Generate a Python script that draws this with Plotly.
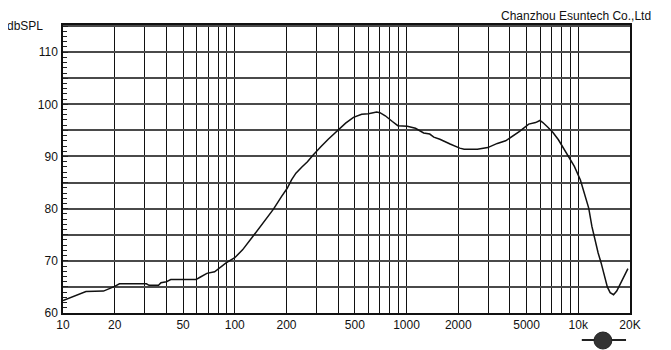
import plotly.graph_objects as go

# ---- data ----
freq_hz = [10, 10.7, 12.0, 13.6, 17.2, 18.8, 20, 21.3, 30.6, 31.7, 36, 37.2, 40, 42.4,
           59.5, 62.4, 68.8, 76.3, 89, 100, 111, 127, 146, 168, 187, 202, 214, 227,
           246, 265, 286, 303, 318, 350, 397, 442, 491, 548, 600, 670, 700, 752, 827,
           890, 1010, 1127, 1258, 1365, 1441, 1564, 1793, 2040, 2165, 2584, 2970, 3378,
           3777, 4100, 4552, 5145, 5640, 5980, 6220, 6650, 7120, 7660, 8220, 8790, 9487,
           10286, 10870, 11180, 11500, 12000, 12490, 13050, 13580, 14180, 14760, 15330,
           16040, 16740, 17710, 18720, 19450]
spl_db = [62.4, 62.8, 63.5, 64.1, 64.2, 64.7, 65.1, 65.6, 65.6, 65.3, 65.3, 65.8, 66.0, 66.4,
          66.4, 66.8, 67.6, 67.9, 69.6, 70.6, 72.1, 74.6, 77.3, 79.9, 82.3, 83.9, 85.5, 86.8,
          88.0, 89.0, 90.3, 91.1, 91.9, 93.3, 94.9, 96.4, 97.5, 98.1, 98.2, 98.5, 98.4, 97.8, 96.7,
          95.9, 95.8, 95.4, 94.5, 94.3, 93.7, 93.3, 92.4, 91.6, 91.4, 91.4, 91.7, 92.5,
          93.0, 93.8, 94.8, 96.2, 96.5, 96.9, 96.5, 95.6, 94.6, 93.2, 91.6, 90.0, 88.1,
          85.5, 83.0, 81.7, 80.1, 76.6, 74.1, 71.5, 69.6, 67.0, 65.0, 63.9,
          63.5, 64.2, 65.8, 67.4, 68.5]

x_grid = [10, 20, 30, 40, 50, 60, 70, 80, 90, 100, 200, 300, 400, 500, 600, 700, 800, 900,
          1000, 2000, 3000, 4000, 5000, 6000, 7000, 8000, 9000, 10000, 20000]
x_labels = {10: "10", 20: "20", 50: "50", 100: "100", 200: "200", 500: "500", 1000: "1000",
            2000: "2000", 5000: "5000", 10000: "10k", 20000: "20K"}
y_hidden_labels = ["65", "75", "85", "95", "105", "115"]

y_title = "dbSPL"
company = "Chanzhou Esuntech Co.,Ltd"

FONT = "Liberation Sans, Arial, sans-serif"

fig = go.Figure()
fig.add_trace(go.Scatter(x=freq_hz, y=spl_db, mode="lines",
                         line=dict(color="#111111", width=1.5), hoverinfo="skip"))

# page body has an 8px margin, so the figure is sized/offset to compensate
fig.update_layout(
    width=663, height=342,
    margin=dict(l=55, r=41, t=17, b=37),
    paper_bgcolor="white", plot_bgcolor="white",
    showlegend=False,
    font=dict(family=FONT, size=12, color="#111111"),
)

fig.update_xaxes(
    type="log", range=[1, 4.30103],
    tickmode="array", tickvals=x_grid,
    ticktext=[x_labels.get(v, "") for v in x_grid],
    showgrid=True, gridcolor="#111111", gridwidth=1.3,
    ticks="", showline=True, linecolor="#111111", linewidth=1.5, mirror=True,
    zeroline=False, tickfont=dict(size=12, family=FONT, color="#111111"),
)
fig.update_yaxes(
    range=[60, 115.2],
    tickmode="linear", tick0=60, dtick=5,
    labelalias={k: "" for k in y_hidden_labels},
    showgrid=True, gridcolor="#4a4a4a", gridwidth=2,
    ticks="inside", ticklen=5, tickcolor="#222222", tickwidth=1,
    minor=dict(tick0=60, dtick=1, ticks="inside", ticklen=4,
               tickcolor="#222222", tickwidth=1, showgrid=False),
    showline=True, linecolor="#111111", linewidth=1.5, mirror=True,
    zeroline=False, tickfont=dict(size=12, family=FONT, color="#111111"),
    ticklabelstandoff=1,
)

fig.add_annotation(text=y_title, xref="paper", yref="paper", x=-0.1023, y=0.9965,
                   xanchor="left", yanchor="middle", showarrow=False,
                   font=dict(size=12, family=FONT, color="#111111"))
fig.add_annotation(text=company, xref="paper", yref="paper", x=1.0406, y=1.031,
                   xanchor="right", yanchor="middle", showarrow=False,
                   font=dict(size=12, family=FONT, color="#111111"))

# small globe logo (decoration)
fig.add_shape(type="line", xref="paper", yref="paper", x0=0.915, x1=0.993, y0=-0.094, y1=-0.094,
              line=dict(color="#222222", width=2))
fig.add_shape(type="circle", xref="paper", yref="paper", x0=0.9365, x1=0.968, y0=-0.125, y1=-0.066,
              line=dict(color="#222222", width=1), fillcolor="#333333")

fig.write_html("out.html")
